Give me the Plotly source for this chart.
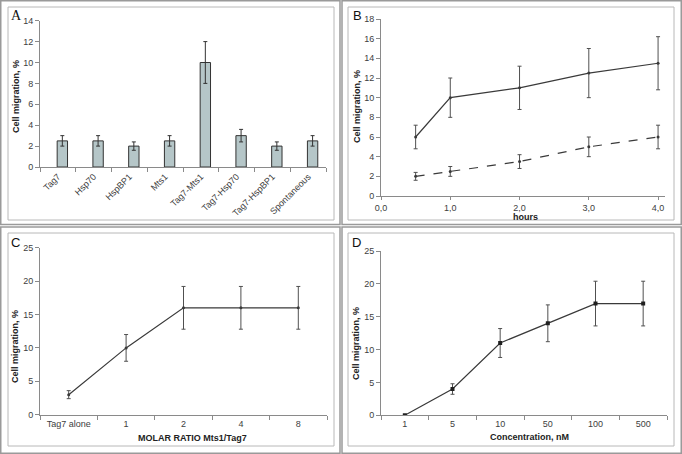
import plotly.graph_objects as go

W, H = 682, 454

# ---------------- data ----------------
a_categories = ["Tag7", "Hsp70", "HspBP1", "Mts1", "Tag7-Mts1", "Tag7-Hsp70", "Tag7-HspBP1", "Spontaneous"]
a_values = [2.5, 2.5, 2.0, 2.5, 10.0, 3.0, 2.0, 2.5]
a_errors = [0.5, 0.5, 0.4, 0.5, 2.0, 0.6, 0.4, 0.5]

b_hours = [0.5, 1.0, 2.0, 3.0, 4.0]
b_solid = [6.0, 10.0, 11.0, 12.5, 13.5]
b_solid_err = [1.2, 2.0, 2.2, 2.5, 2.7]
b_dashed = [2.0, 2.5, 3.5, 5.0, 6.0]
b_dashed_err = [0.4, 0.5, 0.7, 1.0, 1.2]
b_tickvals = [0, 1, 2, 3, 4]
b_ticktext = ["0,0", "1,0", "2,0", "3,0", "4,0"]

c_categories = ["Tag7 alone", "1", "2", "4", "8"]
c_values = [3.0, 10.0, 16.0, 16.0, 16.0]
c_errors = [0.6, 2.0, 3.2, 3.2, 3.2]

d_categories = ["1", "5", "10", "50", "100", "500"]
d_values = [0.0, 4.0, 11.0, 14.0, 17.0, 17.0]
d_errors = [0.0, 0.8, 2.2, 2.8, 3.4, 3.4]

# ---------------- helpers ----------------
def px(x):
    return x / W

def py(y):
    return 1 - y / H

FONT = "Liberation Sans, Arial, sans-serif"
AXC = "#8a8a8a"
TXT = "#404040"
LINE = "#3a3a3a"

fig = go.Figure()

# Panel A bars
fig.add_trace(go.Bar(
    x=a_categories, y=a_values, xaxis="x", yaxis="y",
    width=0.29, offset=-0.02,
    marker=dict(color="#b5c6c8", line=dict(color="#333333", width=1)),
    error_y=dict(type="data", array=a_errors, color="#333333", thickness=1, width=2),
    showlegend=False,
))

# Panel B lines
fig.add_trace(go.Scatter(
    x=b_hours, y=b_solid, xaxis="x2", yaxis="y2", mode="lines+markers",
    line=dict(color=LINE, width=1.2), marker=dict(size=3, color=LINE),
    error_y=dict(type="data", array=b_solid_err, color="#505050", thickness=1, width=2),
    showlegend=False,
))
fig.add_trace(go.Scatter(
    x=b_hours, y=b_dashed, xaxis="x2", yaxis="y2", mode="lines+markers",
    line=dict(color=LINE, width=1.2, dash="dash"), marker=dict(size=3, color=LINE),
    error_y=dict(type="data", array=b_dashed_err, color="#505050", thickness=1, width=2),
    showlegend=False,
))

# Panel C
fig.add_trace(go.Scatter(
    x=c_categories, y=c_values, xaxis="x3", yaxis="y3", mode="lines+markers",
    line=dict(color=LINE, width=1.2), marker=dict(size=3, color=LINE),
    error_y=dict(type="data", array=c_errors, color="#505050", thickness=1, width=2),
    showlegend=False,
))

# Panel D
fig.add_trace(go.Scatter(
    x=d_categories, y=d_values, xaxis="x4", yaxis="y4", mode="lines+markers",
    line=dict(color=LINE, width=1.2), marker=dict(size=4, color="#202020", symbol="square"),
    error_y=dict(type="data", array=d_errors, color="#505050", thickness=1, width=2),
    showlegend=False,
))

tickfont = dict(family=FONT, size=9, color=TXT)

def ax(domain, anchor, **kw):
    d = dict(domain=domain, anchor=anchor, showline=True, linecolor=AXC, linewidth=1,
             ticks="outside", ticklen=4, tickcolor=AXC, showgrid=False, zeroline=False,
             tickfont=tickfont, fixedrange=True, automargin=False)
    d.update(kw)
    return d

layout = dict(
    width=W, height=H, margin=dict(l=0, r=0, t=0, b=0, autoexpand=False),
    paper_bgcolor="white", plot_bgcolor="rgba(0,0,0,0)",
    font=dict(family=FONT, size=9, color=TXT),
    xaxis=ax([px(40), px(326)], "y", type="category", tickson="boundaries",
             tickangle=-45, range=[-0.5, 7.5]),
    yaxis=ax([py(167), py(20.7)], "x", range=[0, 14], dtick=2),
    xaxis2=ax([px(381), px(665)], "y2", range=[0, 4.1], tickvals=b_tickvals, ticktext=b_ticktext, ticklen=3),
    yaxis2=ax([py(196), py(19)], "x2", range=[0, 18], dtick=2),
    xaxis3=ax([px(40), px(327)], "y3", type="category", tickson="boundaries", range=[-0.5, 4.5]),
    yaxis3=ax([py(414.7), py(247.7)], "x3", range=[0, 25], dtick=5),
    xaxis4=ax([px(381), px(667)], "y4", type="category", tickson="boundaries", range=[-0.5, 5.5]),
    yaxis4=ax([py(415.3), py(251)], "x4", range=[0, 25], dtick=5),
)
fig.update_layout(**layout)

# Frames
shapes = []
def rect(x0, y0, x1, y1, color, width=1):
    shapes.append(dict(type="rect", xref="paper", yref="paper",
                       x0=px(x0), x1=px(x1), y0=py(y1), y1=py(y0),
                       line=dict(color=color, width=width), fillcolor="rgba(0,0,0,0)", layer="below"))

OUT = "#9a9a9a"
INN = "#b8b8b8"
rect(0.75, 0.75, 340, 224.5, OUT, 1.5)
rect(342, 0.75, 681.25, 224.5, OUT, 1.5)
rect(0.75, 227, 340, 453.25, OUT, 1.5)
rect(342, 227, 681.25, 453.25, OUT, 1.5)
rect(8, 7, 334, 220, INN)
rect(348, 7, 674, 220, INN)
rect(8, 233, 334, 446, INN)
rect(348, 233, 674, 446, INN)
fig.update_layout(shapes=shapes)

ann = []
def text(x, y, t, size=9, bold=False, angle=0, family=FONT, color="#222222"):
    ann.append(dict(xref="paper", yref="paper", x=px(x), y=py(y), text=("<b>%s</b>" % t) if bold else t,
                    showarrow=False, textangle=angle, xanchor="center", yanchor="middle",
                    font=dict(family=family, size=size, color=color)))

# panel letters
text(16, 15, "A", size=14, family="Liberation Serif, Times New Roman, serif", color="#111111")
text(357, 15, "B", size=13, color="#111111")
text(15, 242, "C", size=13, color="#111111")
text(356, 242, "D", size=13, color="#111111")

# y titles
text(16, 97, "Cell migration, %", bold=True, angle=-90)
text(357, 107, "Cell migration, %", bold=True, angle=-90)
text(15, 347, "Cell migration, %", bold=True, angle=-90)
text(356, 344, "Cell migration, %", bold=True, angle=-90)

# x titles
text(525, 216.5, "hours", bold=True)
text(192, 438, "MOLAR RATIO Mts1/Tag7", bold=True)
text(529, 437, "Concentration, nM", bold=True)

fig.update_layout(annotations=ann)

fig.write_html("out.html", config={"displayModeBar": False},
               post_script="document.body.style.margin='0';document.body.style.overflow='hidden';")
